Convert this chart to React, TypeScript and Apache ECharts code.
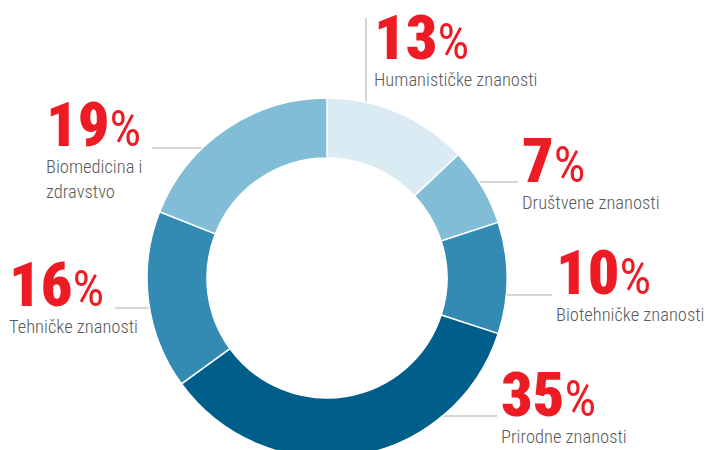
import React, { useEffect, useRef } from "react";
import * as echarts from "echarts";

const categories = [
  "Humanističke znanosti",
  "Društvene znanosti",
  "Biotehničke znanosti",
  "Prirodne znanosti",
  "Tehničke znanosti",
  "Biomedicina i\nzdravstvo",
];
const values = [13, 7, 10, 35, 16, 19];
const colors = ["#dbebf4", "#82bdd7", "#338bb4", "#005e8a", "#338bb4", "#82bdd7"];

// label placement (layout only): text left x, text top y, leader line
const CX = 327;
const CY = 278;
const R_IN = 120;
const R_OUT = 180;
const labelPos = [
  { x: 374, y: 7, vertical: true, lineX: 366, lineEnd: 18 },
  { x: 522, y: 130, lineY: 182, lineEnd: 518 },
  { x: 556, y: 242, lineY: 295, lineEnd: 552 },
  { x: 501, y: 364, lineY: 416, lineEnd: 497 },
  { x: 9, y: 254, lineY: 308, lineEnd: 115 },
  { x: 46, y: 94, lineY: 148, lineEnd: 152 },
];

const FONT = "'Roboto Condensed', sans-serif";

export default function App() {
  const ref = useRef<HTMLDivElement>(null);
  useEffect(() => {
    if (!ref.current) return;
    const chart = echarts.init(ref.current, undefined, { renderer: "svg" });
    const data = categories.map((name, i) => ({
      name,
      value: values[i],
      itemStyle: { color: colors[i] },
    }));
    chart.setOption({
      animation: false,
      backgroundColor: "#ffffff",
      series: [
        {
          type: "pie",
          center: [CX, CY],
          radius: [R_IN, R_OUT],
          startAngle: 90,
          clockwise: true,
          avoidLabelOverlap: false,
          data,
          itemStyle: { borderColor: "#ffffff", borderWidth: 1.5 },
          label: {
            show: true,
            position: "outer",
            width: 260,
            overflow: "none",
            formatter: (p: any) => `{p|${p.value}}{s|%}\n{n|${p.name}}`,
            rich: {
              p: {
                fontFamily: FONT,
                fontWeight: 900,
                fontSize: 62,
                lineHeight: 60,
                color: "#ed1c24",
              },
              s: {
                fontFamily: FONT,
                fontWeight: "normal",
                fontSize: 50,
                lineHeight: 51,
                verticalAlign: "bottom",
                color: "#ed1c24",
              },
              n: {
                fontFamily: FONT,
                fontWeight: 300,
                fontSize: 18.5,
                lineHeight: 25,
                color: "#58595b",
              },
            },
          },
          labelLine: {
            show: true,
            lineStyle: { color: "#c8c8c8", width: 1.5 },
          },
          labelLayout: (params: any) => {
            const lp = labelPos[params.dataIndex];
            let pts: number[][];
            if (lp.vertical) {
              const dx = lp.lineX! - CX;
              const y0 = CY - Math.sqrt(R_OUT * R_OUT - dx * dx);
              pts = [
                [lp.lineX!, y0],
                [lp.lineX!, (y0 + lp.lineEnd) / 2],
                [lp.lineX!, lp.lineEnd],
              ];
            } else {
              const dy = lp.lineY! - CY;
              const half = Math.sqrt(R_OUT * R_OUT - dy * dy);
              const x0 = lp.lineEnd > CX ? CX + half : CX - half;
              pts = [
                [x0, lp.lineY!],
                [(x0 + lp.lineEnd) / 2, lp.lineY!],
                [lp.lineEnd, lp.lineY!],
              ];
            }
            return {
              x: lp.x,
              y: lp.y,
              align: "left",
              verticalAlign: "top",
              labelLinePoints: pts,
            };
          },
        },
      ],
    });
    return () => chart.dispose();
  }, []);
  return (
    <div
      ref={ref}
      style={{ position: "absolute", left: 0, top: 0, width: 708, height: 450 }}
    />
  );
}
